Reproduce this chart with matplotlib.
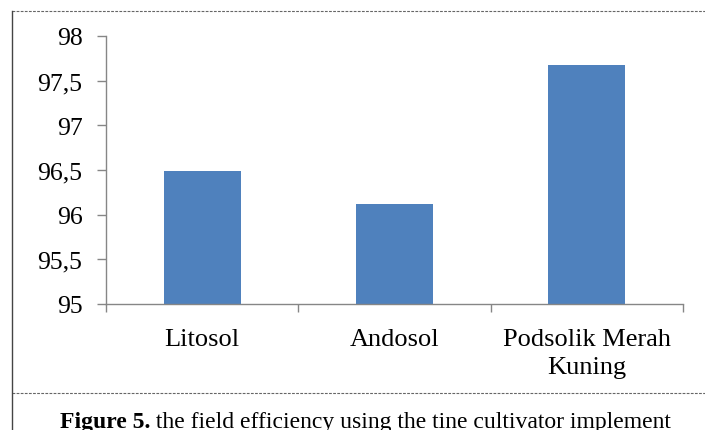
import matplotlib
matplotlib.use("Agg")
from matplotlib import pyplot as plt
from matplotlib.lines import Line2D

categories = ["Litosol", "Andosol", "Podsolik Merah\nKuning"]
values = [96.49, 96.12, 97.68]
y_ticks = [95, 95.5, 96, 96.5, 97, 97.5, 98]
y_labels = ["95", "95,5", "96", "96,5", "97", "97,5", "98"]
caption_bold = "Figure 5."
caption_rest = " the field efficiency using the tine cultivator implement"

plt.rcParams["font.family"] = ["Liberation Serif", "DejaVu Serif"]

W, H = 705, 431
fig = plt.figure(figsize=(W / 100, H / 100), dpi=100)
ax = fig.add_axes([106 / W, 1 - 305 / H, (683 - 106) / W, (305 - 37) / H])

x = range(len(categories))
ax.bar(x, values, width=0.4, color="#4f81bd", zorder=2)

ax.set_ylim(95, 98)
ax.set_xlim(-0.5, 2.5)
ax.set_yticks(y_ticks)
ax.set_yticklabels(y_labels, fontsize=18.5)
ax.set_xticks(list(x))
ax.set_xticklabels(categories, fontsize=19, linespacing=1.35)
ax.set_xticks([-0.5, 0.5, 1.5, 2.5], minor=True)

ax.tick_params(axis="x", which="major", length=0, pad=17)
ax.tick_params(axis="x", which="minor", length=6, width=1, color="#868686")
ax.tick_params(axis="y", length=6.5, width=1, color="#868686", pad=10.5)

for side in ["top", "right"]:
    ax.spines[side].set_visible(False)
for side in ["left", "bottom"]:
    ax.spines[side].set_color("#868686")
    ax.spines[side].set_linewidth(1)

# frame lines around the figure
top_y = 1 - 12 / H
mid_y = 1 - 394 / H
left_x = 12 / W
dash = dict(transform=fig.transFigure, color="#666666", lw=0.8, linestyle=(0, (2.5, 1.2)))
fig.lines.append(Line2D([left_x, 1], [top_y, top_y], **dash))
fig.lines.append(Line2D([left_x, 1], [mid_y, mid_y], **dash))
fig.lines.append(Line2D([left_x, left_x], [0, top_y], transform=fig.transFigure,
                        color="#444444", lw=1))

# caption, centred, cut off at the bottom edge like the reference
fig.canvas.draw()
renderer = fig.canvas.get_renderer()
t1 = fig.text(0, 3 / H, caption_bold, fontsize=17, fontweight="bold", va="baseline")
t2 = fig.text(0, 3 / H, caption_rest, fontsize=17, va="baseline")
w1 = t1.get_window_extent(renderer).width
w2 = t2.get_window_extent(renderer).width
start = 365.5 - (w1 + w2) / 2
t1.set_x(start / W)
t2.set_x((start + w1) / W)

fig.savefig("out.png", dpi=100)
